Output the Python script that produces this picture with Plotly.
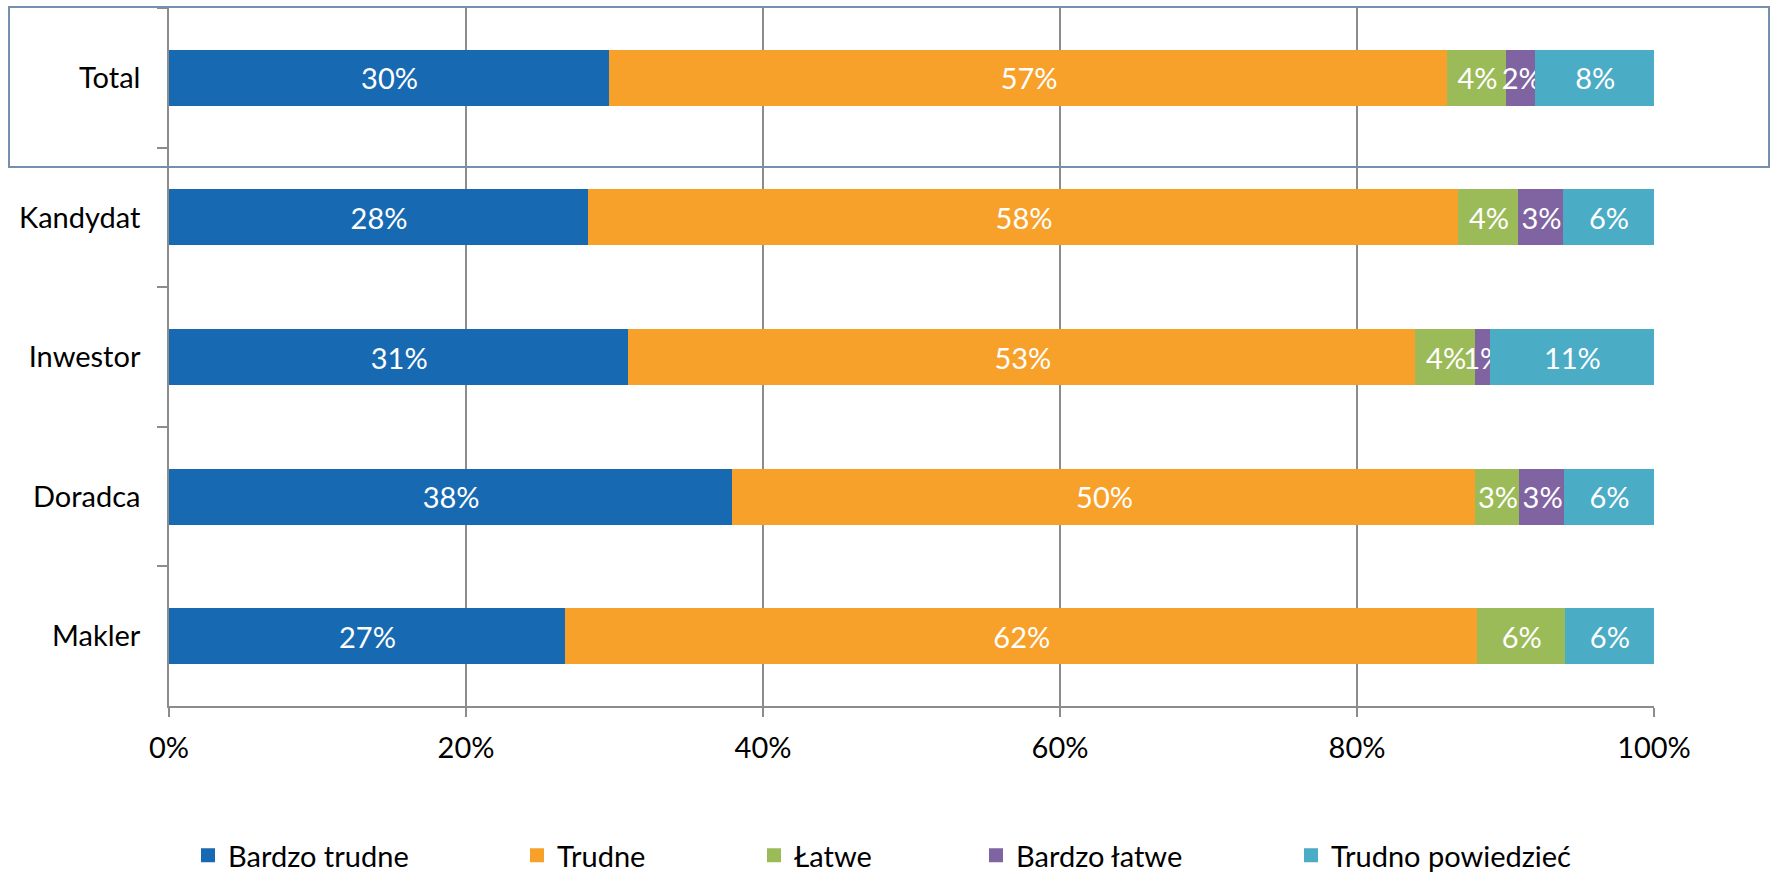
import plotly.graph_objects as go

# Respondent groups (top to bottom) and answer shares in percent
groups = ["Total", "Kandydat", "Inwestor", "Doradca", "Makler"]
answers = ["Bardzo trudne", "Trudne", "Łatwe", "Bardzo łatwe", "Trudno powiedzieć"]

bardzo_trudne = [30, 28, 31, 38, 27]
trudne = [57, 58, 53, 50, 62]
latwe = [4, 4, 4, 3, 6]
bardzo_latwe = [2, 3, 1, 3, None]
trudno_powiedziec = [8, 6, 11, 6, 6]

series = [bardzo_trudne, trudne, latwe, bardzo_latwe, trudno_powiedziec]
colors = ["#176ab1", "#f8a12a", "#9bbb59", "#8064a2", "#4bacc6"]

x_ticks = [0, 20, 40, 60, 80, 100]
x_tick_labels = ["0%", "20%", "40%", "60%", "80%", "100%"]

W, H = 1773, 875
M_L, M_R, M_T, M_B = 169, 119, 8, 169
plot_w = W - M_L - M_R
plot_h = H - M_T - M_B

FONT = "Lato"
FS = 29
GRID = "#8c8c8c"

# legend entry left edges in pixels
legend_px = [188, 517, 754, 976, 1291]
LEGEND_TOP = 830

fig = go.Figure()
for i, (name, vals, col) in enumerate(zip(answers, series, colors)):
    lg = "legend" if i == 0 else f"legend{i + 1}"
    fig.add_trace(go.Bar(
        y=groups,
        x=vals,
        name=name,
        orientation="h",
        marker=dict(color=col, line=dict(width=2, color=col)),
        text=[f"{v}%" if v is not None else "" for v in vals],
        textposition="inside",
        insidetextanchor="middle",
        textangle=0,
        constraintext="none",
        textfont=dict(color="white", size=FS, family=FONT),
        hoverinfo="skip",
        legend=lg,
    ))

layout_legends = {}
for i, px in enumerate(legend_px):
    key = "legend" if i == 0 else f"legend{i + 1}"
    layout_legends[key] = dict(
        x=(px - M_L) / plot_w,
        xanchor="left",
        y=(H - M_B - LEGEND_TOP) / plot_h,
        yanchor="top",
        orientation="h",
        font=dict(size=FS, family=FONT, color="black"),
        bgcolor="rgba(0,0,0,0)",
        borderwidth=0,
    )

fig.update_layout(
    width=W,
    height=H,
    margin=dict(l=M_L, r=M_R, t=M_T, b=M_B, pad=0, autoexpand=False),
    barmode="stack",
    barnorm="percent",
    bargap=0.614,
    plot_bgcolor="white",
    paper_bgcolor="white",
    font=dict(family=FONT, size=FS, color="black"),
    uniformtext=dict(minsize=FS, mode="show"),
    showlegend=True,
    **layout_legends,
)

fig.update_xaxes(
    range=[0, 100],
    tickvals=x_ticks,
    ticktext=x_tick_labels,
    showgrid=True,
    gridcolor=GRID,
    gridwidth=1.5,
    showline=True,
    linecolor=GRID,
    linewidth=1.5,
    ticks="outside",
    ticklen=9,
    tickcolor=GRID,
    tickwidth=1.5,
    ticklabelstandoff=6,
    zeroline=False,
    tickfont=dict(size=FS, family=FONT, color="black"),
    fixedrange=True,
)

fig.update_yaxes(
    type="category",
    categoryorder="array",
    categoryarray=groups,
    autorange="reversed",
    showgrid=False,
    showline=True,
    linecolor=GRID,
    linewidth=1.5,
    ticks="outside",
    tickson="boundaries",
    ticklen=10,
    tickcolor=GRID,
    tickwidth=1.5,
    ticklabelstandoff=21,
    tickfont=dict(size=FS, family=FONT, color="black"),
    fixedrange=True,
)

# frame highlighting the Total row
def px_x(p):
    return (p - M_L) / plot_w

def px_y(p):
    return (H - M_B - p) / plot_h

fig.add_shape(
    type="rect", xref="paper", yref="paper",
    x0=px_x(9), x1=px_x(1769), y0=px_y(167), y1=px_y(7),
    line=dict(color="#7590ad", width=2),
    fillcolor="rgba(0,0,0,0)",
    layer="above",
)

fig.write_html("out.html")
